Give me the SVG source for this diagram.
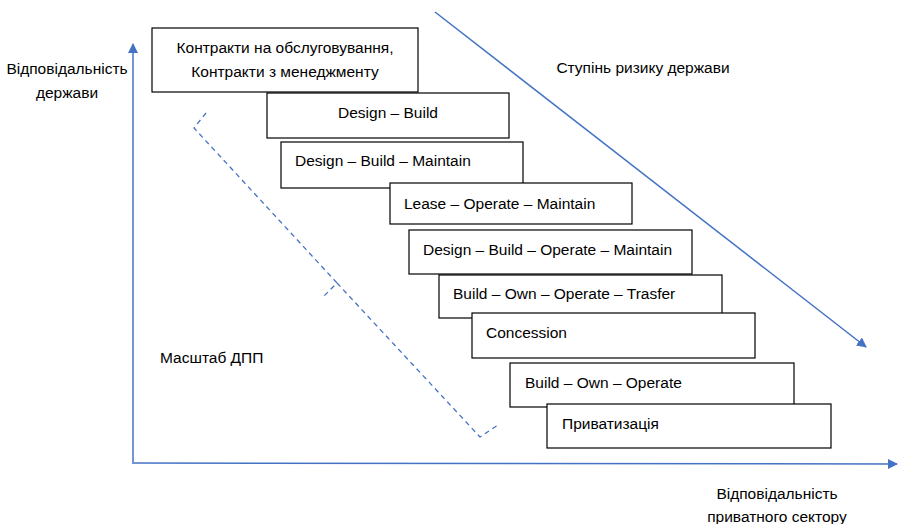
<svg xmlns="http://www.w3.org/2000/svg" width="899" height="524" viewBox="0 0 899 524">
<style>
text{font-family:"Liberation Sans",Arial,sans-serif;font-size:15.5px;fill:#000}
.box{fill:#fff;stroke:#000;stroke-width:1.2}
.ax{stroke:#4472C4;stroke-width:1.5;fill:none}
.dash{stroke:#4472C4;stroke-width:1.3;fill:none;stroke-dasharray:5 4}
.c{text-anchor:middle}
</style>
<defs>
<marker id="ah" markerWidth="10" markerHeight="10" refX="9" refY="5" orient="auto" markerUnits="userSpaceOnUse">
<path d="M0,0 L10,5 L0,10 Z" fill="#4472C4"/>
</marker>
</defs>
<g id="connectors">
<line class="ax" x1="133" y1="462" x2="133" y2="44" marker-end="url(#ah)"/>
<line class="ax" x1="132" y1="463" x2="897" y2="464" marker-end="url(#ah)"/>
<line class="ax" x1="435" y1="12" x2="866" y2="347" marker-end="url(#ah)"/>
<path id="bracket" class="dash" d="M206,113 L194,128 L337,283 L323,297 M337,283 L480,437 L498,425"/>
</g>
<g id="n1"><rect class="box" x="152" y="28" width="266" height="64"/><text class="c" x="285" y="53">Контракти на обслуговування,</text><text class="c" x="285" y="77">Контракти з менеджменту</text></g>
<g id="n2"><rect class="box" x="267" y="93" width="242" height="45"/><text class="c" x="388" y="118">Design – Build</text></g>
<g id="n3"><rect class="box" x="281" y="142" width="242" height="46"/><text x="295" y="166">Design – Build – Maintain</text></g>
<g id="n4"><rect class="box" x="390" y="183" width="242" height="41"/><text x="404" y="209">Lease – Operate – Maintain</text></g>
<g id="n5"><rect class="box" x="409" y="230" width="283" height="44"/><text x="423" y="255">Design – Build – Operate – Maintain</text></g>
<g id="n6"><rect class="box" x="439" y="275" width="283" height="43"/><text x="453" y="299">Build – Own – Operate – Trasfer</text></g>
<g id="n7"><rect class="box" x="472" y="313" width="283" height="45"/><text x="486" y="338">Concession</text></g>
<g id="n8"><rect class="box" x="510" y="363" width="284" height="44"/><text x="525" y="388">Build – Own – Operate</text></g>
<g id="n9"><rect class="box" x="547" y="404" width="284" height="44"/><text x="562" y="429">Приватизація</text></g>
<g id="labels">
<text class="c" x="67" y="74">Відповідальність</text>
<text class="c" x="67" y="98">держави</text>
<text class="c" x="643" y="73">Ступінь ризику держави</text>
<text x="160" y="363">Масштаб ДПП</text>
<text class="c" x="777" y="499">Відповідальність</text>
<text class="c" x="777" y="522">приватного сектору</text>
</g>
</svg>
